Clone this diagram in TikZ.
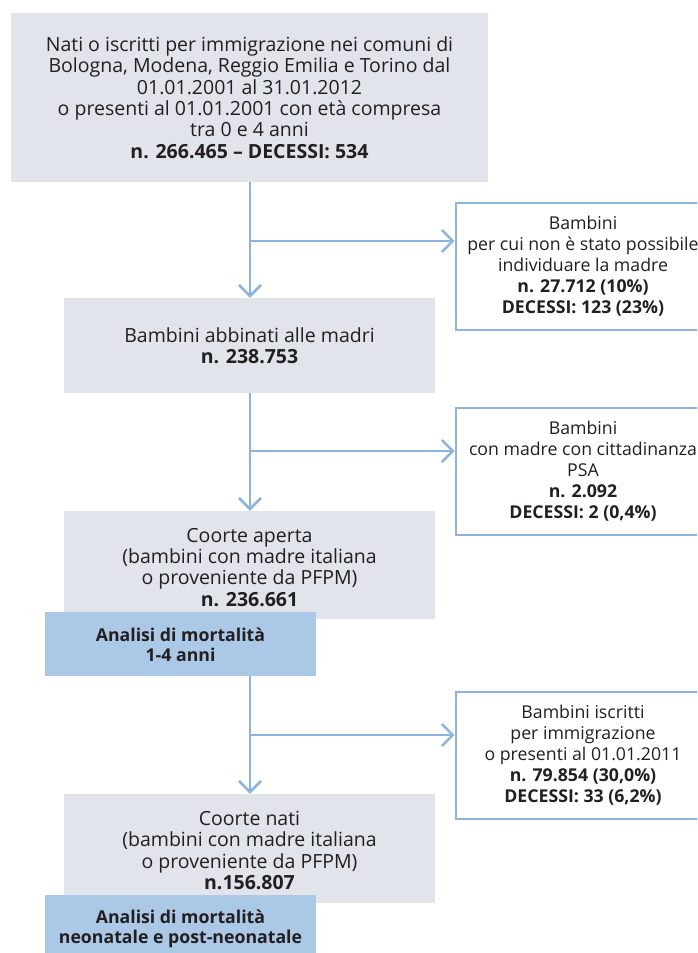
\documentclass[tikz,border=0pt]{standalone}
\usepackage{fontspec}
\setmainfont{Open Sans}
\usetikzlibrary{arrows.meta,calc}
\definecolor{boxgray}{HTML}{E1E4EA}
\definecolor{boxblue}{HTML}{ABC8E6}
\definecolor{linblue}{HTML}{8DB4DD}
\definecolor{txt}{HTML}{231F20}
\begin{document}
\begin{tikzpicture}[x=1pt,y=-1pt,
  every node/.style={font=\fontsize{17.7}{21}\selectfont, text=txt, inner sep=0pt, align=center},
  mainfont/.style={font=\fontsize{19.5}{21.3}\selectfont},
  graybox/.style={fill=boxgray, draw=none},
  bluebox/.style={fill=boxblue, draw=none},
  bluetext/.style={font=\fontsize{17.7}{20}\selectfont\bfseries},
  sidebox/.style={draw=linblue, line width=2.6pt, fill=white},
  arr/.style={draw=linblue, line width=2.6pt, -{Straight Barb[length=11pt,width=22pt,line width=2.6pt]}}]
\useasboundingbox (0,0) rectangle (697,953);
\clip (0,0) rectangle (697,953);
\fill[white] (0,0) rectangle (697,953);

% main boxes
\node[graybox, mainfont, minimum width=477pt, minimum height=169pt] (box1) at (249.5,97.5)
  {Nati o iscritti per immigrazione nei comuni di\\Bologna, Modena, Reggio Emilia e Torino dal\\01.01.2001 al 31.01.2012\\o presenti al 01.01.2001 con età compresa\\tra 0 e 4 anni\\\textbf{n. 266.465 – DECESSI: 534}};
\node[graybox, mainfont, minimum width=371pt, minimum height=95pt] (box2) at (249.5,345.5)
  {Bambini abbinati alle madri\\\textbf{n. 238.753}};
\node[graybox, minimum width=371pt, minimum height=108pt] (box3) at (249.5,565) {};
\node[mainfont, anchor=north] (t3) at (249.5,528) {Coorte aperta\\(bambini con madre italiana\\o proveniente da PFPM)\\\textbf{n. 236.661}};
\node[bluebox, minimum width=271pt, minimum height=64pt] (blue1) at (180.5,644) {};
\node[bluetext] (t4) at (180.5,645) {Analisi di mortalità\\1-4 anni};
\node[graybox, minimum width=371pt, minimum height=109pt] (box4) at (249.5,848.5) {};
\node[mainfont, anchor=north] (t5) at (249.5,811) {Coorte nati\\(bambini con madre italiana\\o proveniente da PFPM)\\\textbf{n.156.807}};
\node[bluebox, minimum width=271pt, minimum height=70pt] (blue2) at (180.5,930) {};
\node[bluetext] (t6) at (180.5,929) {Analisi di mortalità\\neonatale e post-neonatale};

% side boxes
\node[sidebox, minimum width=254pt, minimum height=127pt] (side1) at (583,266.5)
  {Bambini\\per cui non è stato possibile\\individuare la madre\\\textbf{n. 27.712 (10\%)}\\\textbf{DECESSI: 123 (23\%)}};
\node[sidebox, minimum width=254pt, minimum height=127pt] (side2) at (583,471.5)
  {Bambini\\con madre con cittadinanza\\PSA\\\textbf{n. 2.092}\\\textbf{DECESSI: 2 (0,4\%)}};
\node[sidebox, minimum width=254pt, minimum height=127pt] (side3) at (583,755.5)
  {Bambini iscritti\\per immigrazione\\o presenti al 01.01.2011\\\textbf{n. 79.854 (30,0\%)}\\\textbf{DECESSI: 33 (6,2\%)}};

% connectors
\coordinate (b1) at (250,241);
\coordinate (b2) at (250,451);
\coordinate (b3) at (250,735);
\draw[arr] (box1.south -| b1) -- (box2.north -| b1);
\draw[arr] (b1) -- (b1 -| side1.west);
\draw[arr] (box2.south -| b2) -- (box3.north -| b2);
\draw[arr] (b2) -- (b2 -| side2.west);
\draw[arr] (blue1.south -| b3) -- (box4.north -| b3);
\draw[arr] (b3) -- (b3 -| side3.west);
\end{tikzpicture}
\end{document}
